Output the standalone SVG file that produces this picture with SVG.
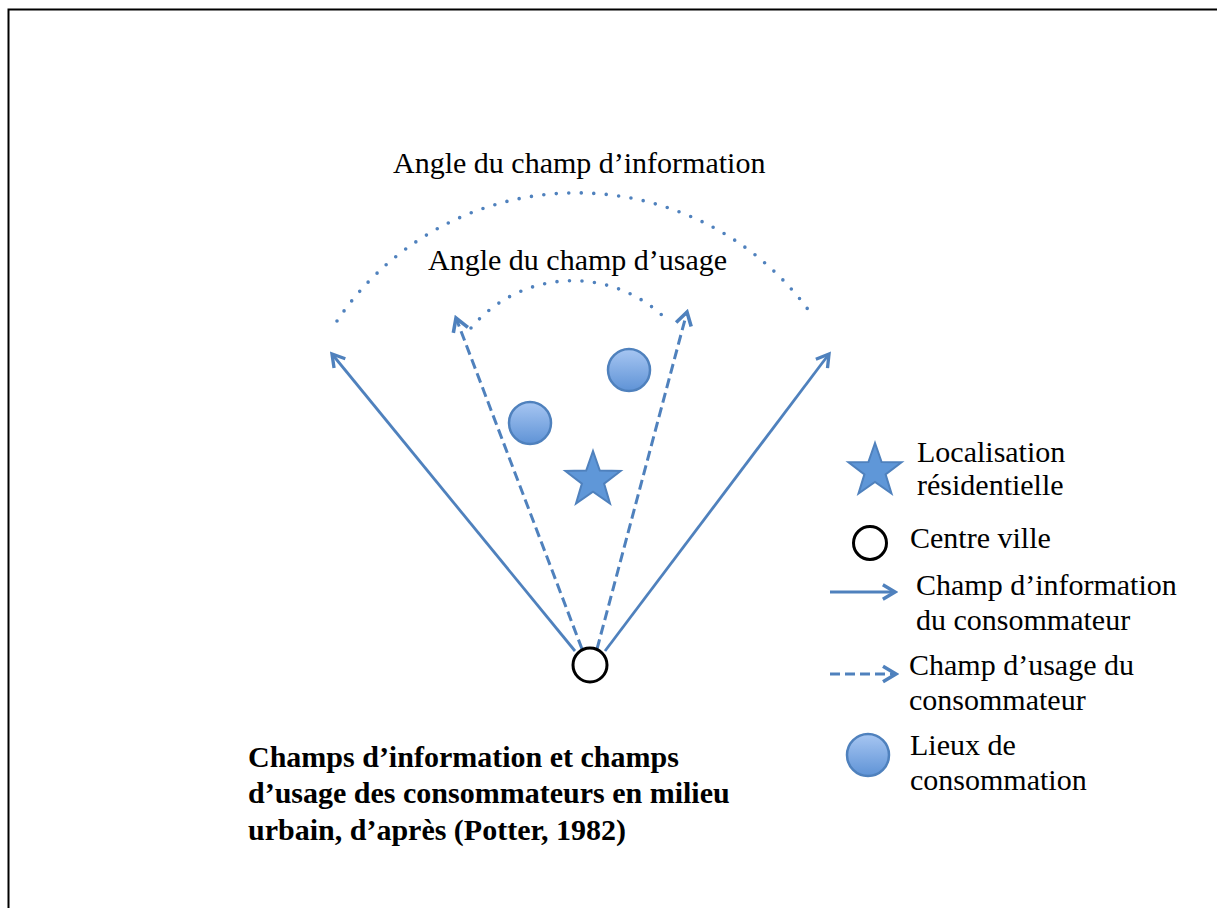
<svg xmlns="http://www.w3.org/2000/svg" width="1217" height="908" viewBox="0 0 1217 908">
<style>
.t{font-family:"Liberation Serif","Times New Roman",serif;font-size:30px;fill:#000}
.b{font-family:"Liberation Serif","Times New Roman",serif;font-size:30px;font-weight:bold;fill:#000}
.solid{stroke:#4f81bd;stroke-width:2.8;fill:none;marker-end:url(#ah)}
.dash{stroke:#4f81bd;stroke-width:3;fill:none;stroke-dasharray:10 5;marker-end:url(#ah)}
.dot{stroke:#4f81bd;stroke-width:3.6;fill:none;stroke-dasharray:0 12.5;stroke-linecap:round}
.place{fill:url(#g);stroke:#4f81bd;stroke-width:2.5}
.star{fill:#5f97d8;stroke:#4f81bd;stroke-width:2}
.centre{fill:#fff;stroke:#000;stroke-width:3}
</style>
<defs>
<marker id="ah" viewBox="0 0 12 12" refX="10" refY="6" markerWidth="6.5" markerHeight="6.5" orient="auto" markerUnits="strokeWidth">
<path d="M2,1.2 L10,6 L2,10.8" fill="none" stroke="#4f81bd" stroke-width="2.2" stroke-linejoin="miter"/>
</marker>
<linearGradient id="g" x1="0" y1="0" x2="0" y2="1">
<stop offset="0" stop-color="#a7c6f2"/>
<stop offset="1" stop-color="#5f93d6"/>
</linearGradient>
</defs>
<rect width="1217" height="908" fill="#fff"/>
<path d="M8.5,908 V9.5 H1217" fill="none" stroke="#000" stroke-width="2"/>

<g id="arcs">
<path class="dot" d="M337,321 A288,288 0 0 1 812,315"/>
<path class="dot" d="M471,328 A133,133 0 0 1 664,317"/>
</g>

<g id="connectors">
<line class="solid" x1="575" y1="651" x2="332" y2="354"/>
<line class="solid" x1="605" y1="651" x2="829" y2="354"/>
<line class="dash" x1="582" y1="649" x2="456" y2="318"/>
<line class="dash" x1="597" y1="649" x2="687" y2="312"/>
</g>

<g id="centre">
<circle class="centre" cx="590" cy="665" r="17"/>
</g>
<g id="place1"><circle class="place" cx="530" cy="423" r="21"/></g>
<g id="place2"><circle class="place" cx="629" cy="370" r="21"/></g>
<g id="residence">
<polygon class="star" points="593,451 599.8,470.6 620.6,471 604.1,483.6 610,503.5 593,491.6 576,503.5 581.9,483.6 565.4,471 586.2,470.6"/>
</g>

<g id="labels">
<text class="t" x="393" y="173">Angle du champ d’information</text>
<text class="t" x="428" y="270">Angle du champ d’usage</text>
</g>

<g id="title">
<text class="b" x="248" y="767">Champs d’information et champs</text>
<text class="b" x="248" y="803">d’usage des consommateurs en milieu</text>
<text class="b" x="248" y="840">urbain, d’après (Potter, 1982)</text>
</g>

<g id="legend-star">
<polygon class="star" points="875,443 881.6,462.1 901.6,462.3 885.6,474.4 891.5,493.6 875,482 858.5,493.6 864.4,474.4 848.4,462.3 868.4,462.1"/>
<text class="t" x="917" y="462">Localisation</text>
<text class="t" x="917" y="495">résidentielle</text>
</g>
<g id="legend-centre">
<circle class="centre" cx="870" cy="543" r="16.5"/>
<text class="t" x="910" y="548">Centre ville</text>
</g>
<g id="legend-info">
<line class="solid" x1="830" y1="592" x2="895" y2="592"/>
<text class="t" x="916" y="595">Champ d’information</text>
<text class="t" x="916" y="630">du consommateur</text>
</g>
<g id="legend-usage">
<line class="dash" x1="830" y1="674" x2="896" y2="674"/>
<text class="t" x="909" y="675">Champ d’usage du</text>
<text class="t" x="909" y="710">consommateur</text>
</g>
<g id="legend-place">
<circle class="place" cx="868" cy="755" r="21"/>
<text class="t" x="910" y="755">Lieux de</text>
<text class="t" x="910" y="790">consommation</text>
</g>
</svg>
